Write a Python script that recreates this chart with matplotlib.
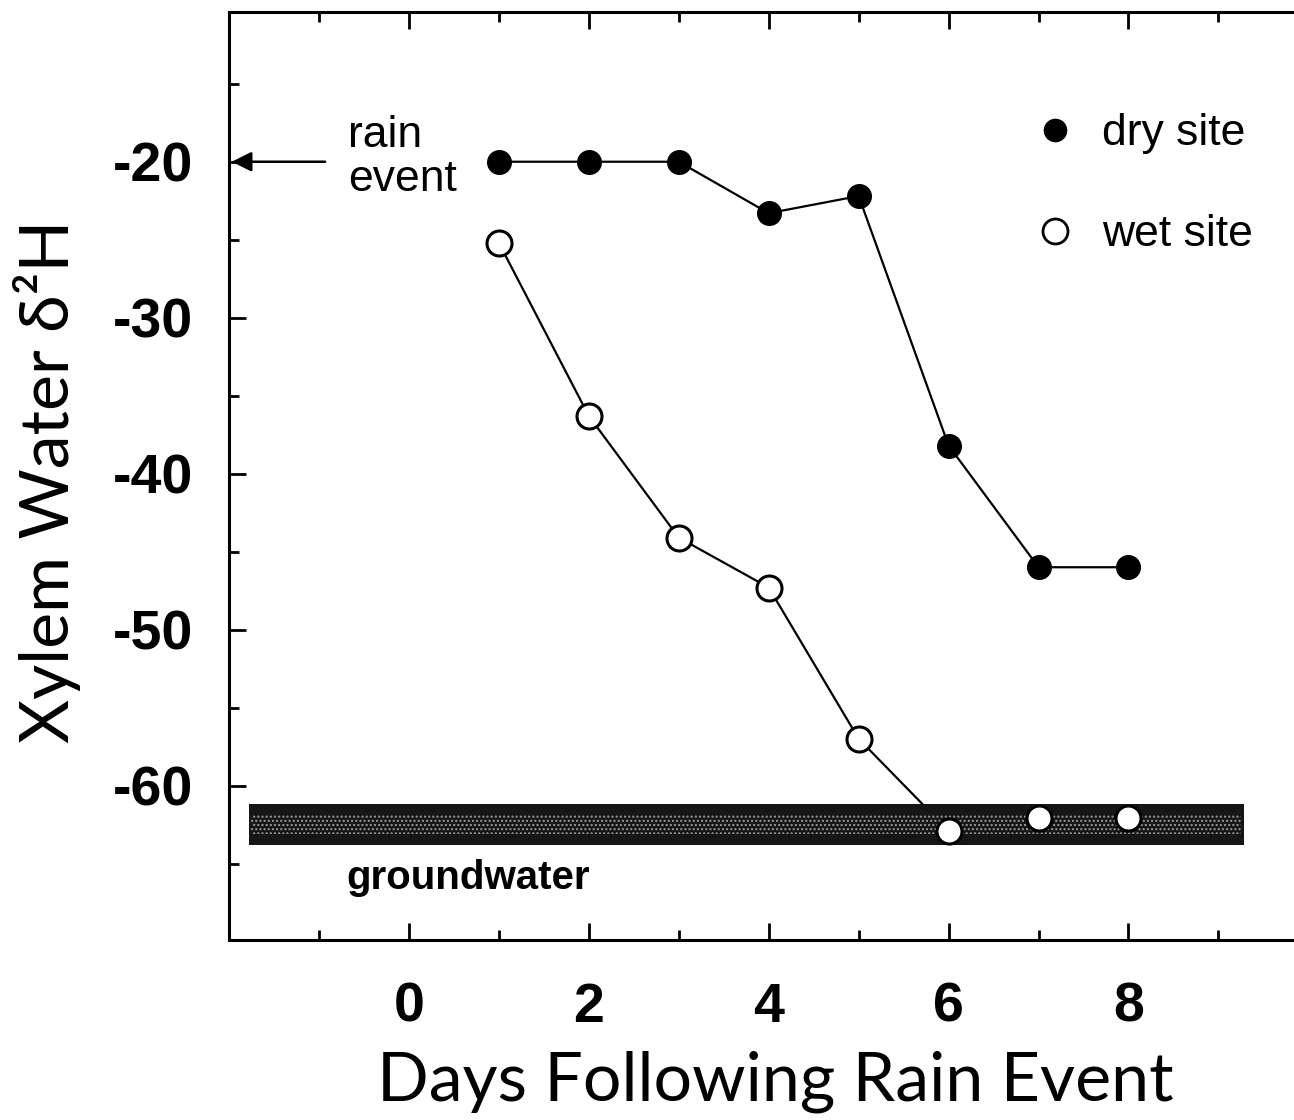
import matplotlib.pyplot as plt
from matplotlib.lines import Line2D
from matplotlib.ticker import MultipleLocator

# data
days = [1, 2, 3, 4, 5, 6, 7, 8]
dry_site = [-20, -20, -20, -23.3, -22.2, -38.2, -46, -46]
wet_site = [-25.2, -36.3, -44.1, -47.3, -57.0, -62.9, -62.1, -62.1]
groundwater = (-61.2, -63.8)
x_ticks = [0, 2, 4, 6, 8]
y_ticks = [-20, -30, -40, -50, -60]

plt.rcParams['axes.unicode_minus'] = False
sans = ['Liberation Sans', 'DejaVu Sans']

fig = plt.figure(figsize=(12.94, 11.2), dpi=100)
ax = fig.add_axes([229/1294, 1 - 940/1120, 1 - 229/1294, 928/1120])
ax.set_xlim(-2, 9.84)
ax.set_ylim(-69.9, -10.4)

# groundwater band (dark with speckle)
ax.fill_between([-1.78, 9.28], groundwater[0], groundwater[1], color='#161616', zorder=3, lw=0)
ax.fill_between([-1.75, 9.25], groundwater[0] - 0.7, groundwater[1] + 0.7, facecolor='none',
                edgecolor='#9a9a9a', hatch='....', lw=0, zorder=3)

# lines under the band, markers above
ax.plot(days, dry_site, color='black', lw=1.6, zorder=2)
ax.plot(days[:6], wet_site[:6], color='black', lw=1.6, zorder=2)
ax.plot(days, dry_site, 'o', ms=17, color='black', zorder=4)
ax.plot(days, wet_site, 'o', ms=18, mfc='white', mec='black', mew=2.2, zorder=4)

# rain event arrow
ax.annotate('', xy=(-2.0, -20), xytext=(-0.9, -20),
            arrowprops=dict(arrowstyle='-|>', color='black', lw=1.8, mutation_scale=30))
ax.text(-0.68, -17.0, 'rain\nevent', fontsize=32, family=sans, va='top', ha='left', linespacing=1.1)
ax.text(-0.7, -65.9, 'groundwater', fontsize=29, family=sans, fontweight='bold', va='center', ha='left')

handles = [Line2D([], [], ls='none', marker='o', ms=16, color='black'),
           Line2D([], [], ls='none', marker='o', ms=18, mfc='white', mec='black', mew=2)]
leg = ax.legend(handles, ['dry site', 'wet site'], loc='upper left', bbox_to_anchor=(0.713, 0.915),
                frameon=False, handletextpad=0.05, labelspacing=1.35, borderpad=0,
                prop={'family': sans, 'size': 32})

# axes styling
for side in ['left', 'top', 'bottom']:
    ax.spines[side].set_linewidth(2.2)
ax.spines['right'].set_visible(False)
ax.set_xticks(x_ticks)
ax.set_yticks(y_ticks)
ax.xaxis.set_minor_locator(MultipleLocator(1))
ax.yaxis.set_minor_locator(MultipleLocator(5))
ax.tick_params(which='both', direction='in', top=True, right=False, width=2)
ax.tick_params(which='major', length=12)
ax.tick_params(which='minor', length=7)
ax.tick_params(axis='y', pad=26)
ax.tick_params(axis='x', pad=30)
for lab in ax.get_xticklabels() + ax.get_yticklabels():
    lab.set_family(sans)
    lab.set_fontsize(40)
    lab.set_fontweight('bold')

fig.text(775/1294, 1 - 1082/1120, 'Days Following Rain Event', fontsize=49, family='Lato',
         ha='center', va='center')
fig.text(47/1294, 1 - 481/1120, 'Xylem Water δ²H', fontsize=49, family='Lato',
         rotation=90, ha='center', va='center')

fig.savefig('out.png', dpi=100)
